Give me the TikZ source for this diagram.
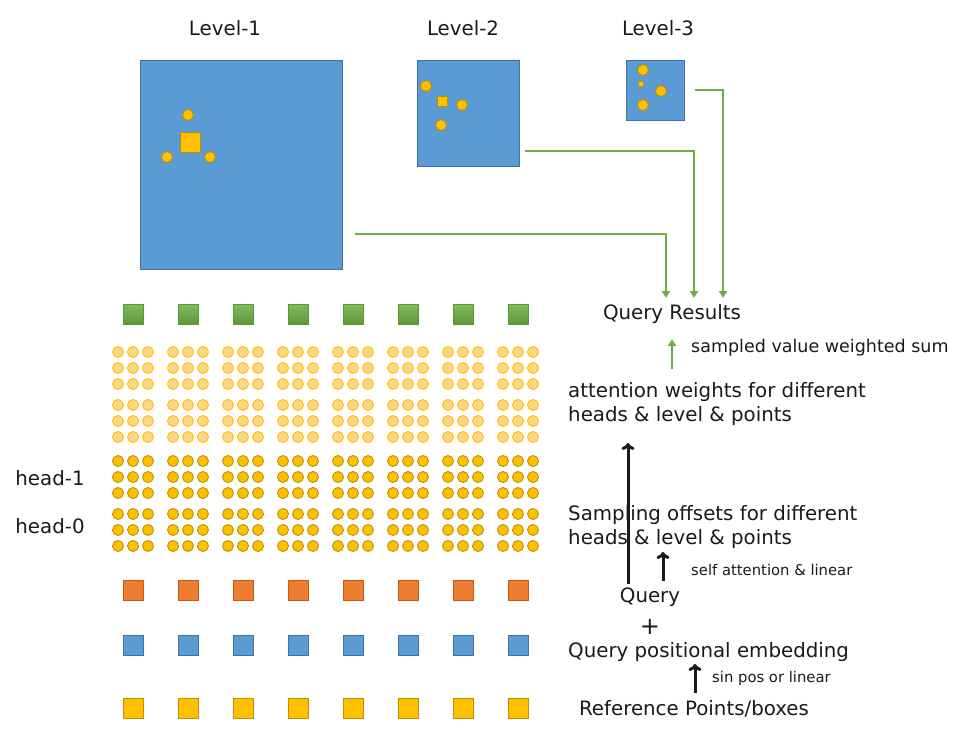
\documentclass[tikz,border=0pt]{standalone}
\usepackage{fontspec}
\setmainfont{DejaVu Sans}
\usetikzlibrary{arrows.meta}
\definecolor{cblue}{HTML}{5B9BD5}
\definecolor{cblueb}{HTML}{41719C}
\definecolor{cgold}{HTML}{FFC000}
\definecolor{cgoldb}{HTML}{BF9000}
\definecolor{clight}{HTML}{FFD68A}
\definecolor{cgreen}{HTML}{70AD47}
\definecolor{cgreenb}{HTML}{5A9A35}
\definecolor{corange}{HTML}{ED7D31}
\definecolor{corangeb}{HTML}{C55A11}
\definecolor{ctext}{HTML}{1A1A1A}
\tikzset{
  lvl/.style={fill=cblue,draw=cblueb,line width=0.8pt},
  gdot/.style={circle,fill=cgold,draw=cgoldb,line width=0.9pt,inner sep=0pt,minimum size=11pt},
  ldot/.style={circle,fill=clight,draw=cgold,line width=0.9pt,inner sep=0pt,minimum size=11pt},
  gsq/.style={rectangle,fill=cgold,draw=cgoldb,line width=0.9pt,inner sep=0pt},
  grarrow/.style={draw=cgreen,line width=2.4pt,-{Triangle[length=7pt,width=8pt]}},
  bkarrow/.style={draw=ctext,line width=3pt,-{To[length=7pt,width=13pt]}},
  big/.style={font=\fontsize{19.8}{24}\selectfont,text=ctext,inner sep=0pt,align=left},
  mid/.style={font=\fontsize{17.5}{20}\selectfont,text=ctext,inner sep=0pt},
  small/.style={font=\fontsize{14.8}{17}\selectfont,text=ctext,inner sep=0pt},
  tok/.style={rectangle,minimum size=20pt,inner sep=0pt,line width=0.8pt},
}
\begin{document}
\begin{tikzpicture}[x=1pt,y=-1pt]
\useasboundingbox (0,0) rectangle (974,746);
% levels
\node[big] (l1) at (225,28) {Level-1};
\node[big] (l2) at (463,28) {Level-2};
\node[big] (l3) at (658,28) {Level-3};
\draw[lvl] (140,60) rectangle (342,269);
\draw[lvl] (417,60) rectangle (519,166);
\draw[lvl] (626,60) rectangle (684,120);
% level-1 content
\node[gsq,minimum size=20pt] (s1) at (190,142) {};
\node[gdot] (a1) at (188,115) {};
\node[gdot] (b1) at (167,157) {};
\node[gdot] (c1) at (210,157) {};
% level-2
\node[gsq,minimum size=10pt] (s2) at (442,101) {};
\node[gdot] (a2) at (426,86) {};
\node[gdot] (b2) at (462,105) {};
\node[gdot] (c2) at (441,125) {};
% level-3
\node[gsq,minimum size=5.5pt] (s3) at (641,84) {};
\node[gdot] (a3) at (643,70) {};
\node[gdot] (b3) at (661,91) {};
\node[gdot] (c3) at (643,105) {};
% query results
\node[big] (qr) at (672,314) {Query Results};
\coordinate (g1s) at (355,234);
\coordinate (g2s) at (525,151);
\coordinate (g3s) at (695,90);
\coordinate (g1e) at (666,298);
\coordinate (g2e) at (694,298);
\coordinate (g3e) at (723,298);
\draw[grarrow] (g1s) -| (g1e);
\draw[grarrow] (g2s) -| (g2e);
\draw[grarrow] (g3s) -| (g3e);
% token rows
\foreach \i in {0,...,7}{
  \pgfmathsetmacro{\cx}{133+55*\i}
  \node[tok,draw=cgreenb,top color=cgreen!85!white,bottom color=cgreenb] (gq\i) at (\cx,314) {};
  \node[tok,fill=corange,draw=corangeb] (oq\i) at (\cx,590) {};
  \node[tok,fill=cblue,draw=cblueb] (bq\i) at (\cx,645) {};
  \node[tok,fill=cgold,draw=cgoldb] (yq\i) at (\cx,708) {};
  \foreach \dx [count=\k] in {-15,0,15}{
    \foreach \yy [count=\r] in {352,368,384,405,421,437}{
      \node[ldot] (ld\i-\k-\r) at (\cx+\dx,\yy) {};
    }
    \foreach \yy [count=\r] in {461,477,493,514,530,546}{
      \node[gdot] (dd\i-\k-\r) at (\cx+\dx,\yy) {};
    }
  }
}
\node[big] (h1) at (50,478) {head-1};
\node[big] (h0) at (50,526) {head-0};
% right side pipeline
\node[mid,anchor=west] (svw) at (691,348) {sampled value weighted sum};
\coordinate (ga0) at (672,369);
\coordinate (ga1) at (672,339);
\draw[grarrow] (ga0) -- (ga1);
\node[big,anchor=base west] (aw) at (568,421) {attention weights for different\\heads \& level \& points};
\node[big,anchor=base west] (so) at (568,544) {Sampling offsets for different\\heads \& level \& points};
\node[big] (q) at (650,597) {Query};
\node[big] (plus) at (650,627) {\fontsize{24}{24}\selectfont +};
\node[big,anchor=west] (qpe) at (568,652) {Query positional embedding};
\node[big] (rp) at (694,709) {Reference Points/boxes};
\node[small,anchor=west] (sal) at (691,570) {self attention \& linear};
\node[small,anchor=west] (spl) at (712,678) {sin pos or linear};
\coordinate (k0) at (628,584);
\coordinate (k1) at (628,443);
\draw[bkarrow] (k0) -- (k1);
\coordinate (m0) at (663,581);
\coordinate (m1) at (663,552);
\draw[bkarrow] (m0) -- (m1);
\coordinate (n0) at (695,693);
\coordinate (n1) at (695,664);
\draw[bkarrow] (n0) -- (n1);
\end{tikzpicture}
\end{document}
